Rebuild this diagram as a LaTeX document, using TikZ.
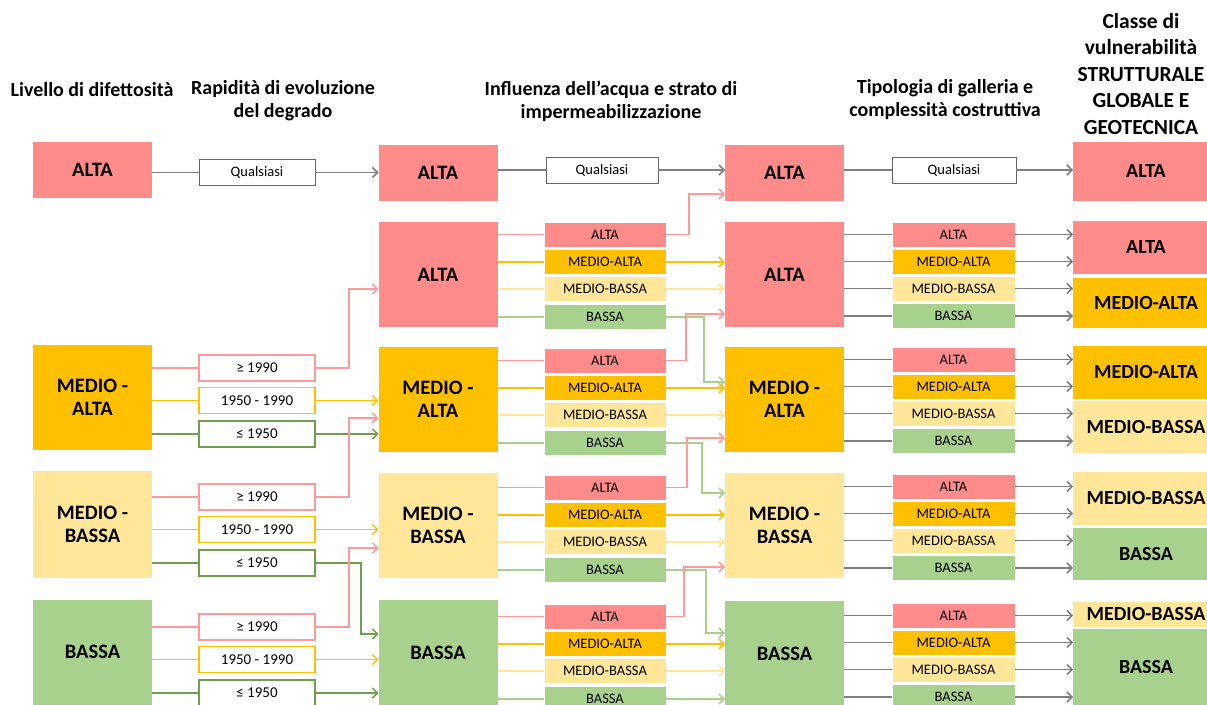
\documentclass[tikz,border=0pt]{standalone}
\usepackage{fontspec}
\setmainfont{Carlito}
\usetikzlibrary{arrows.meta}

\definecolor{altaC}{HTML}{FF8B8B}
\definecolor{maC}{HTML}{FFC000}
\definecolor{mbC}{HTML}{FFE699}
\definecolor{bassaC}{HTML}{A9D18E}
\definecolor{lnRed}{HTML}{FF9A9A}
\definecolor{lnGreen}{HTML}{6E9E4E}
\definecolor{lnGray}{HTML}{7F7F7F}

\tikzset{
  lvl/.style={minimum width=119pt, minimum height=105pt, inner sep=0pt, outer sep=0pt, align=center, font=\fontsize{20.5}{23}\selectfont\bfseries},
  cls/.style={minimum width=146pt, inner sep=0pt, outer sep=0pt, font=\fontsize{20}{22}\selectfont\bfseries},
  sub/.style={minimum width=122pt, minimum height=25pt, inner sep=0pt, outer sep=0pt, draw=white, line width=0.8pt, font=\fontsize{14.5}{15}\selectfont},
  yr/.style={draw=#1, line width=1.2pt, fill=white, minimum width=116pt, minimum height=26pt, inner sep=0pt, outer sep=0pt, font=\fontsize{15}{16}\selectfont},
  qual/.style={draw=lnGray!80!black, line width=0.8pt, fill=white, minimum height=26pt, inner sep=0pt, outer sep=0pt, font=\fontsize{14.5}{15}\selectfont},
  ln/.style={line width=1.5pt, draw=#1},
  arr/.style={ln=#1, -{Straight Barb[length=5pt,width=10pt]}},
  head/.style={align=center, font=\fontsize{20}{23}\selectfont\bfseries}
}

\begin{document}
\begin{tikzpicture}[x=1pt, y=-1pt]
\fill[white] (0,0) rectangle (1207,704);
\useasboundingbox (0,0) rectangle (1207,704);

% titoli
\node[head] (hLiv) at (92,90) {Livello di difettosità};
\node[head] (hRap) at (283,101) {Rapidità di evoluzione\\del degrado};
\node[head] (hInf) at (611,101) {Influenza dell’acqua e strato di\\impermeabilizzazione};
\node[head] (hTip) at (945,100) {Tipologia di galleria e\\complessità costruttiva};
\node[head, font=\fontsize{21.5}{26.5}\selectfont\bfseries] (hCla) at (1141,74) {Classe di\\vulnerabilità\\STRUTTURALE\\GLOBALE E\\GEOTECNICA};

% livello di difettosita
\node[lvl, fill=altaC, minimum height=56pt] (d1) at (92.5,170) {ALTA};
\node[lvl, fill=maC] (d2) at (92.5,397.5) {MEDIO -\\ALTA};
\node[lvl, fill=mbC, minimum height=107pt] (d3) at (92.5,524) {MEDIO -\\BASSA};
\node[lvl, fill=bassaC] (d4) at (92.5,652) {BASSA};

% rapidita di evoluzione
\node[qual, minimum width=116pt] (r1) at (257,172.5) {Qualsiasi};
\foreach \g/\t in {2/355,3/484,4/614} {
  \node[yr=lnRed] (r\g-a) at (257,\t+13) {≥ 1990};
  \node[yr=maC] (r\g-b) at (257,\t+45.5) {1950 - 1990};
  \node[yr=lnGreen] (r\g-c) at (257,\t+79) {≤ 1950};
}

% influenza dell'acqua (livello)
\node[lvl, fill=altaC, minimum height=56pt] (i0) at (438,173) {ALTA};
\node[lvl, fill=altaC] (i1) at (438,274.5) {ALTA};
\node[lvl, fill=maC] (i2) at (438,399.5) {MEDIO -\\ALTA};
\node[lvl, fill=mbC] (i3) at (438,525.5) {MEDIO -\\BASSA};
\node[lvl, fill=bassaC] (i4) at (438,652.5) {BASSA};

% influenza dell'acqua (classi)
\node[qual, minimum width=112pt] (w0) at (602,170) {Qualsiasi};
\foreach \g/\t in {A/222,B/348,C/475,D/604} {
  \node[sub, fill=altaC] (w\g-a) at (605,\t+12.5) {ALTA};
  \node[sub, fill=maC] (w\g-b) at (605,\t+40) {MEDIO-ALTA};
  \node[sub, fill=mbC] (w\g-c) at (605,\t+67) {MEDIO-BASSA};
  \node[sub, fill=bassaC] (w\g-d) at (605,\t+95) {BASSA};
}

% tipologia di galleria (livello)
\node[lvl, fill=altaC, minimum height=56pt] (t0) at (784.5,173) {ALTA};
\node[lvl, fill=altaC] (t1) at (784.5,274.5) {ALTA};
\node[lvl, fill=maC] (t2) at (784.5,399.5) {MEDIO -\\ALTA};
\node[lvl, fill=mbC] (t3) at (784.5,525.5) {MEDIO -\\BASSA};
\node[lvl, fill=bassaC] (t4) at (784.5,653.5) {BASSA};

% tipologia di galleria (classi)
\node[qual, minimum width=124pt] (s0) at (954,170) {Qualsiasi};
\foreach \g/\t in {A/222,B/347,C/474,D/603} {
  \node[sub, minimum width=123pt, fill=altaC] (s\g-a) at (953.5,\t+12.5) {ALTA};
  \node[sub, minimum width=123pt, fill=maC] (s\g-b) at (953.5,\t+39.5) {MEDIO-ALTA};
  \node[sub, minimum width=123pt, fill=mbC] (s\g-c) at (953.5,\t+66.5) {MEDIO-BASSA};
  \node[sub, minimum width=123pt, fill=bassaC] (s\g-d) at (953.5,\t+94) {BASSA};
}

% classe di vulnerabilita
\node[cls, fill=altaC, minimum height=59pt] (c0) at (1146,171.5) {ALTA};
\node[cls, fill=altaC, minimum height=53pt] (cA1) at (1146,247.5) {ALTA};
\node[cls, fill=maC, minimum height=50pt] (cA2) at (1146,303) {MEDIO-ALTA};
\node[cls, fill=maC, minimum height=53pt] (cB1) at (1146,372.5) {MEDIO-ALTA};
\node[cls, fill=mbC, minimum height=52pt] (cB2) at (1146,427) {MEDIO-BASSA};
\node[cls, fill=mbC, minimum height=53pt] (cC1) at (1146,498.5) {MEDIO-BASSA};
\node[cls, fill=bassaC, minimum height=52pt] (cC2) at (1146,554) {BASSA};
\node[cls, fill=mbC, minimum height=25pt] (cD1) at (1146,614.5) {MEDIO-BASSA};
\node[cls, fill=bassaC, minimum height=77pt] (cD2) at (1146,667.5) {BASSA};

% difettosita -> rapidita
\draw[ln=lnGray] (d1.east |- r1) -- (r1.west);
\foreach \g/\d in {2/d2,3/d3,4/d4} {
  \draw[ln=lnRed] (\d.east |- r\g-a) -- (r\g-a.west);
  \draw[ln=maC] (\d.east |- r\g-b) -- (r\g-b.west);
  \draw[ln=lnGreen] (\d.east |- r\g-c) -- (r\g-c.west);
}

% rapidita -> influenza
\draw[arr=lnGray] (r1.east) -- (r1.east -| i0.west);
\draw[arr=lnRed] (r2-a.east) -- ++(34,0) |- ([yshift=-14.5pt]i1.west);
\draw[arr=maC] (r2-b.east) -- (r2-b.east -| i2.west);
\draw[arr=lnGreen] (r2-c.east) -- (r2-c.east -| i2.west);
\draw[arr=lnRed] (r3-a.east) -- ++(34,0) |- ([yshift=-18.5pt]i2.west);
\draw[arr=maC] (r3-b.east) -- (r3-b.east -| i3.west);
\draw[arr=lnGreen] (r3-c.east) -- ++(46,0) |- ([yshift=18.5pt]i4.west);
\draw[arr=lnRed] (r4-a.east) -- ++(34,0) |- ([yshift=-22.5pt]i3.west);
\draw[arr=maC] (r4-b.east) -- (r4-b.east -| i4.west);
\draw[arr=lnGreen] (r4-c.east) -- (r4-c.east -| i4.west);

% influenza -> classi acqua
\draw[ln=lnGray] (i0.east |- w0) -- (w0.west);
\foreach \g/\i in {A/i1,B/i2,C/i3,D/i4} {
  \draw[ln=lnRed] (\i.east |- w\g-a) -- (w\g-a.west);
  \draw[ln=maC] (\i.east |- w\g-b) -- (w\g-b.west);
  \draw[ln=mbC] (\i.east |- w\g-c) -- (w\g-c.west);
  \draw[ln=bassaC] (\i.east |- w\g-d) -- (w\g-d.west);
}

% classi acqua -> tipologia
\draw[arr=lnGray] (w0.east) -- (w0.east -| t0.west);
\draw[arr=lnRed] (wA-a.east) -- ++(23,0) |- ([yshift=-21pt]t0.west);
\draw[arr=maC] (wA-b.east) -- (wA-b.east -| t1.west);
\draw[arr=mbC] (wA-c.east) -- (wA-c.east -| t1.west);
\draw[arr=bassaC] (wA-d.east) -- ++(38,0) |- ([yshift=17.5pt]t2.west);
\draw[arr=lnRed] (wB-a.east) -- ++(20,0) |- ([yshift=-39.5pt]t1.west);
\draw[arr=maC] (wB-b.east) -- (wB-b.east -| t2.west);
\draw[arr=mbC] (wB-c.east) -- (wB-c.east -| t2.west);
\draw[arr=bassaC] (wB-d.east) -- ++(36,0) |- ([yshift=32.5pt]t3.west);
\draw[arr=lnRed] (wC-a.east) -- ++(21,0) |- ([yshift=-38.5pt]t2.west);
\draw[arr=maC] (wC-b.east) -- (wC-b.east -| t3.west);
\draw[arr=mbC] (wC-c.east) -- (wC-c.east -| t3.west);
\draw[arr=bassaC] (wC-d.east) -- ++(40,0) |- ([yshift=20.5pt]t4.west);
\draw[arr=lnRed] (wD-a.east) -- ++(18,0) |- ([yshift=-41.5pt]t3.west);
\draw[arr=maC] (wD-b.east) -- (wD-b.east -| t4.west);
\draw[arr=mbC] (wD-c.east) -- (wD-c.east -| t4.west);
\draw[arr=bassaC] (wD-d.east) -- (wD-d.east -| t4.west);

% tipologia -> classe finale
\draw[ln=lnGray] (t0.east |- s0) -- (s0.west);
\draw[arr=lnGray] (s0.east) -- (s0.east -| c0.west);
\foreach \g/\t in {A/t1,B/t2,C/t3,D/t4} {
  \foreach \r in {a,b,c,d} {
    \draw[ln=lnGray] (\t.east |- s\g-\r) -- (s\g-\r.west);
    \draw[arr=lnGray] (s\g-\r.east) -- (s\g-\r.east -| cA1.west);
  }
}
\end{tikzpicture}
\end{document}
